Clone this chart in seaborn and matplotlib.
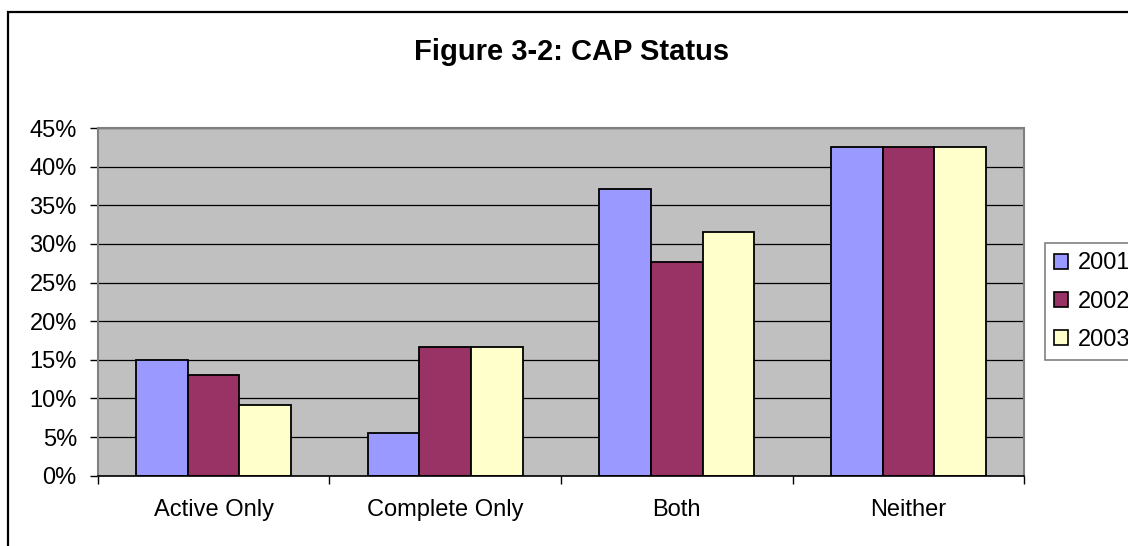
import pandas as pd
import matplotlib
matplotlib.use("Agg")
import matplotlib.pyplot as plt
from matplotlib.patches import Rectangle
from matplotlib.ticker import FixedLocator, FuncFormatter
import seaborn as sns

# CAP status shares (percent)
statuses = ["Active Only", "Complete Only", "Both", "Neither"]
years = ["2001", "2002", "2003"]
pct_2001 = [15.0, 5.5, 37.1, 42.6]
pct_2002 = [13.0, 16.6, 27.7, 42.6]
pct_2003 = [9.1, 16.6, 31.5, 42.6]
colors = ["#9999FF", "#993366", "#FFFFCC"]

df = pd.DataFrame({
    "status": statuses * 3,
    "year": [y for y in years for _ in statuses],
    "pct": pct_2001 + pct_2002 + pct_2003,
})

plt.rcParams["font.family"] = ["Liberation Sans", "DejaVu Sans"]

W, H = 1128, 546
fig = plt.figure(figsize=(W / 100, H / 100), dpi=100)
fig.patch.set_facecolor("white")
ax = fig.add_axes([97.7 / W, 70.3 / H, (1024.3 - 97.7) / W, (475.7 - 128) / H])
ax.set_facecolor("#C0C0C0")

sns.barplot(data=df, x="status", y="pct", hue="year", order=statuses,
            hue_order=years, palette=colors, saturation=1, width=0.67,
            edgecolor="black", linewidth=1.3, ax=ax)

ax.set_ylim(0, 45)
ax.set_xlim(-0.5, len(statuses) - 0.5)
ax.set_yticks(range(0, 46, 5))
ax.yaxis.set_major_formatter(FuncFormatter(lambda v, _: f"{v:.0f}%"))
ax.yaxis.grid(True, color="black", linewidth=0.9)
ax.set_axisbelow(True)

# category boundaries get the tick marks, labels sit between them
ax.xaxis.set_minor_locator(FixedLocator([i - 0.5 for i in range(len(statuses) + 1)]))
ax.tick_params(axis="x", which="major", length=0, pad=17, labelsize=17)
ax.tick_params(axis="x", which="minor", length=6, width=1, color="black")
ax.tick_params(axis="y", length=6, width=1, pad=9, labelsize=17)
ax.set_xlabel("")
ax.set_ylabel("")

for side in ["top", "right", "left"]:
    ax.spines[side].set_color("#808080")
    ax.spines[side].set_linewidth(1.5)
ax.spines["bottom"].set_color("black")
ax.spines["bottom"].set_linewidth(1.2)

# legend runs off the right edge, as in the original
sns.move_legend(ax, loc="upper left", bbox_to_anchor=(1044.5 / W, 1 - 243 / H),
                bbox_transform=fig.transFigure, title=None, frameon=True,
                fancybox=False, framealpha=1, edgecolor="#808080", fontsize=17,
                handlelength=0.6, handleheight=0.6, handletextpad=0.4,
                labelspacing=0.69, borderpad=0.4, borderaxespad=0)
leg = ax.get_legend()
leg.get_frame().set_linewidth(1.2)
for h in leg.legend_handles:
    h.set_edgecolor("black")
    h.set_linewidth(1.2)

fig.text(572 / W, 1 - 52 / H, "Figure 3-2: CAP Status", ha="center", va="center",
         fontsize=21, fontweight="bold")

fig.add_artist(Rectangle((8 / W, -0.1), 1.2, 1.1 - 12 / H, transform=fig.transFigure,
                         fill=False, edgecolor="black", linewidth=1.6))

fig.savefig("out.png", dpi=100)
